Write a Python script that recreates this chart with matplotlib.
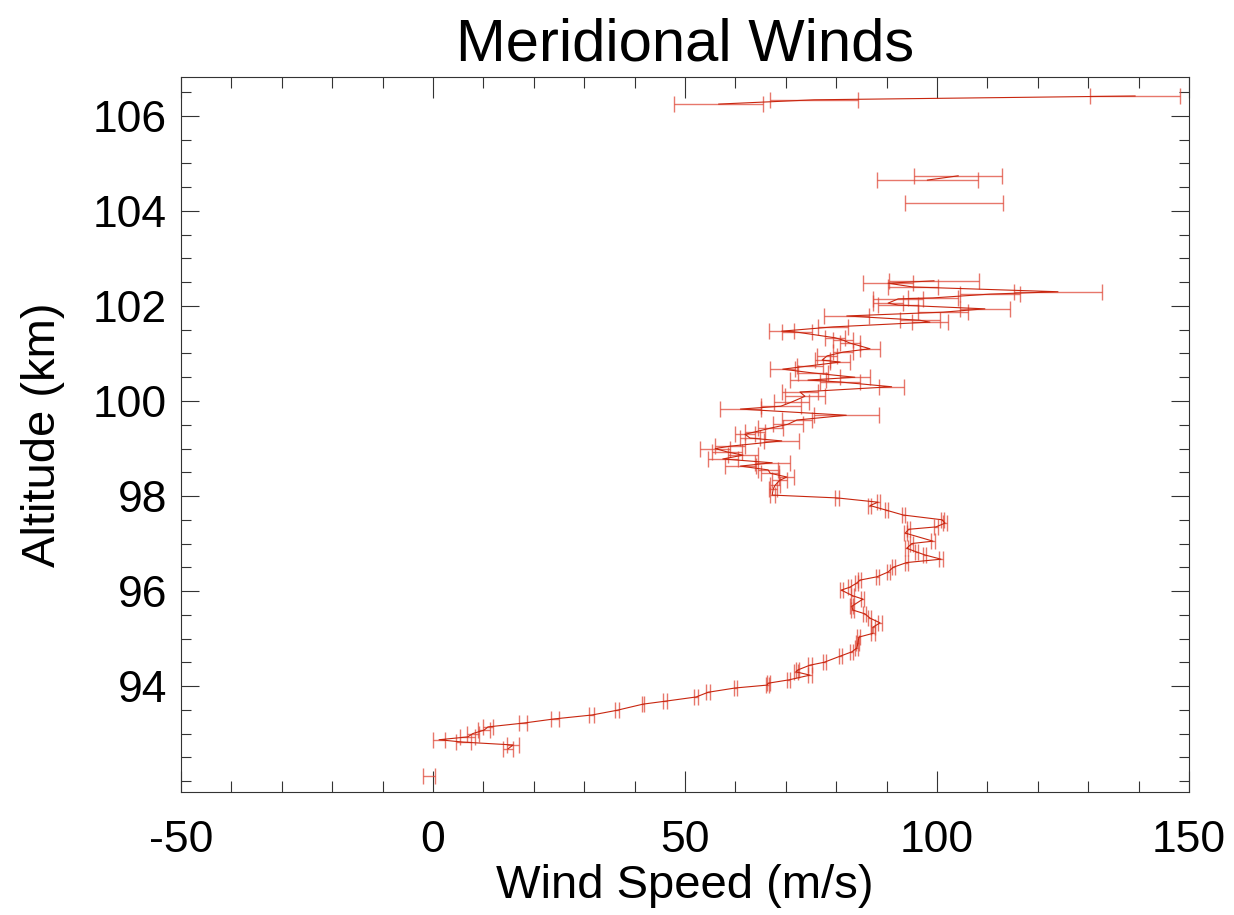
import numpy as np
import matplotlib
matplotlib.use("Agg")
import matplotlib.pyplot as plt

plt.rcParams['font.family'] = ['Liberation Sans', 'DejaVu Sans']
plt.rcParams['axes.unicode_minus'] = False

# Altitude (km), meridional wind (m/s), error (m/s); NaN separates gaps
altitude = [92.11, np.nan,
            92.68, 92.76, 92.82, 92.87, 92.93, 93.00, 93.07, 93.14, 93.22, 93.31,
            93.39, 93.49, 93.62, 93.68, 93.77, 93.87, 93.96, 94.02, 94.06, 94.13,
            94.23, 94.30, 94.34, 94.44, 94.50, 94.63, 94.72, 94.80, 94.90, 95.03,
            95.11, 95.24, 95.33, 95.43, 95.52, 95.60, 95.68, 95.83, 95.90, 96.02,
            96.08, 96.17, 96.23, 96.30, 96.40, 96.50, 96.60, 96.67, 96.76, 96.82,
            96.90, 97.00, 97.05, 97.22, 97.30, 97.35, 97.43, 97.50, 97.60, 97.70,
            97.80, 97.87, 97.96, 98.02, 98.15, 98.23, 98.33, 98.40, 98.48, 98.55,
            98.63, 98.70, 98.78, 98.86, 98.93, 99.00, 99.05, 99.16, 99.22, 99.30,
            99.35, 99.43, 99.51, 99.60, 99.70, 99.83, 99.89, 99.98, 100.10, 100.19,
            100.30, 100.40, 100.44, 100.50, 100.59, 100.67, 100.74, 100.82, 100.86, 100.95,
            101.03, 101.10, 101.22, 101.28, 101.33, 101.45, 101.47, 101.56, 101.66, 101.70,
            101.79, 101.87, 101.94, 102.02, 102.06, 102.15, 102.17, 102.25, 102.30, 102.40,
            102.48, 102.53, np.nan,
            104.17, np.nan,
            104.65, 104.74, np.nan,
            106.25, 106.34, 106.42]

wind = [-0.8, np.nan,
        14.9, 15.9, 6.0, 1.2, 6.9, 7.9, 10.1, 10.9, 17.9, 24.2,
        31.5, 36.5, 41.7, 46.0, 52.2, 54.6, 60.0, 66.3, 66.5, 70.6,
        74.8, 72.0, 72.4, 74.8, 77.6, 80.8, 83.1, 84.1, 84.3, 84.5,
        87.3, 87.3, 88.7, 86.7, 85.7, 83.3, 83.1, 85.3, 83.3, 81.0,
        82.7, 84.1, 84.7, 88.1, 90.3, 91.3, 94.0, 100.8, 97.6, 96.0,
        94.0, 95.0, 99.2, 93.7, 94.4, 99.8, 101.6, 101.0, 93.3, 90.0,
        86.7, 88.3, 80.2, 67.3, 67.5, 67.9, 68.8, 70.2, 66.9, 66.5,
        61.0, 67.3, 57.5, 61.5, 58.3, 56.0, 59.0, 69.2, 62.9, 61.9,
        63.9, 67.0, 70.4, 72.2, 82.0, 61.0, 69.0, 71.2, 73.8, 72.8,
        91.0, 80.8, 74.4, 83.7, 75.4, 69.4, 74.8, 80.8, 77.2, 78.2,
        81.4, 86.7, 82.7, 81.4, 79.8, 72.2, 69.2, 79.4, 98.6, 96.6,
        82.1, 101.2, 109.5, 92.3, 90.3, 92.3, 99.2, 110.5, 124.0, 95.2,
        90.3, 99.4, np.nan,
        103.4, np.nan,
        98.1, 104.2, np.nan,
        56.7, 75.6, 139.3]

wind_err = [1.2, np.nan,
            1.0, 1.2, 1.5, 1.2, 1.5, 1.2, 1.2, 1.0, 0.8, 0.75,
            0.5, 0.35, 0.25, 0.35, 0.35, 0.35, 0.3, 0.3, 0.3, 0.3,
            0.4, 0.4, 0.3, 0.3, 0.3, 0.3, 0.3, 0.3, 0.3, 0.3,
            0.3, 0.3, 0.4, 0.3, 0.3, 0.3, 0.3, 0.3, 0.3, 0.3,
            0.3, 0.3, 0.3, 0.3, 0.3, 0.3, 0.3, 0.4, 0.3, 0.3,
            0.3, 0.3, 0.4, 0.3, 0.3, 0.3, 0.4, 0.3, 0.3, 0.3,
            0.3, 0.3, 0.4, 0.5, 0.8, 1.0, 1.5, 1.5, 1.8, 2.0,
            3.0, 3.5, 3.0, 3.0, 3.0, 3.0, 3.0, 3.5, 2.0, 2.0,
            2.0, 2.5, 3.0, 3.0, 6.5, 4.0, 4.0, 3.5, 4.0, 3.5,
            2.5, 4.0, 3.5, 3.0, 3.0, 2.5, 2.5, 2.0, 1.5, 2.0,
            2.0, 2.0, 2.0, 2.0, 2.0, 3.0, 2.5, 3.0, 3.5, 4.0,
            4.5, 5.0, 5.0, 4.0, 3.0, 5.0, 5.0, 6.0, 8.7, 5.0,
            5.0, 9.0, np.nan,
            9.7, np.nan,
            10.0, 8.7, np.nan,
            8.8, 8.8, 9.0]

x_ticks = [-50, 0, 50, 100, 150]
y_ticks = [94, 96, 98, 100, 102, 104, 106]

fig = plt.figure(figsize=(12.34, 9.15), dpi=100)
ax = fig.add_axes([181 / 1234, 1 - 792 / 915, (1189 - 181) / 1234, (792 - 77) / 915])

alt = np.array(altitude, dtype=float)
w = np.array(wind, dtype=float)
e = np.array(wind_err, dtype=float)

ax.errorbar(w, alt, xerr=e, fmt='none', ecolor='#e04a3a', elinewidth=1.0,
            capsize=6, capthick=1.0, alpha=0.75, zorder=2)
ax.plot(w, alt, color='#c8260f', linewidth=0.8, zorder=3)

ax.set_xlim(-50, 150)
ax.set_ylim(91.77, 106.82)
ax.set_xticks(x_ticks)
ax.set_xticklabels([str(v) for v in x_ticks])
ax.set_yticks(y_ticks)
ax.set_yticklabels([str(v) for v in y_ticks])
ax.set_xticks(np.arange(-50, 151, 10), minor=True)
ax.set_yticks(np.arange(92, 106.9, 0.5), minor=True)

ax.tick_params(which='both', direction='in', top=True, right=True, width=0.8, color='#333333')
ax.tick_params(axis='x', which='major', length=15, pad=20, labelsize=32)
ax.tick_params(axis='x', which='minor', length=8)
ax.tick_params(axis='y', which='major', length=13, pad=10, labelsize=32)
ax.tick_params(axis='y', which='minor', length=7)
for sp in ax.spines.values():
    sp.set_linewidth(0.8)
    sp.set_color('#333333')

ax.set_xlabel('Wind Speed (m/s)', fontsize=34, labelpad=2)
ax.set_ylabel('Altitude (km)', fontsize=34, labelpad=20)
ax.set_title('Meridional Winds', fontsize=43, pad=12)

fig.savefig('out.png', dpi=100)
